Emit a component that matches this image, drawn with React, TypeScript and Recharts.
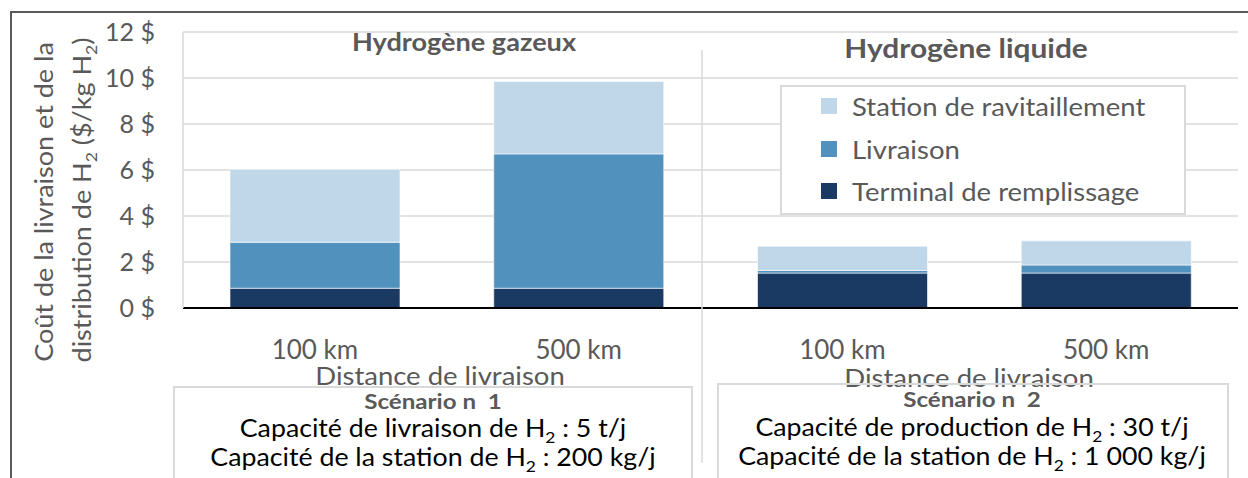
import { BarChart, Bar, XAxis, YAxis, CartesianGrid } from 'recharts'

const CATEGORIES = ['100 km', '500 km', '100 km', '500 km']
const TERMINAL = [0.86, 0.86, 1.52, 1.52]
const LIVRAISON = [2.0, 5.84, 0.11, 0.35]
const STATION = [3.17, 3.15, 1.06, 1.05]
const Y_TICKS = [0, 2, 4, 6, 8, 10, 12]

const SERIES = [
  { key: 'terminal', name: 'Terminal de remplissage', color: '#1B3A63' },
  { key: 'livraison', name: 'Livraison', color: '#5191BE' },
  { key: 'station', name: 'Station de ravitaillement', color: '#BFD7E8' },
]

const data = CATEGORIES.map((name, i) => ({
  name,
  terminal: TERMINAL[i],
  livraison: LIVRAISON[i],
  station: STATION[i],
}))

const FONT = 'Lato, "Open Sans", sans-serif'
const GREY = '#595959'

function H2({ size }: { size: number }) {
  return (
    <>
      H<tspan dy={size * 0.22} fontSize={size * 0.65}>2</tspan>
      <tspan dy={-size * 0.22}>{'\u200b'}</tspan>
    </>
  )
}

// svg text, stretched horizontally like the source picture
function T({ x, y, sx = 1.1, size, bold, fill = GREY, rotate, children }: any) {
  const tr = `translate(${x},${y})${rotate ? ` rotate(${rotate})` : ''} scale(${sx},1)`
  return (
    <text
      transform={tr}
      textAnchor="middle"
      fontSize={size}
      fontWeight={bold ? 700 : 400}
      fill={fill}
      style={{ whiteSpace: 'pre' }}
    >
      {children}
    </text>
  )
}

function LegendBox() {
  const items = [...SERIES].reverse()
  return (
    <div
      style={{
        position: 'absolute',
        left: 780,
        top: 85,
        width: 406,
        height: 130,
        boxSizing: 'border-box',
        background: '#fff',
        border: '2px solid #d9d9d9',
        fontFamily: FONT,
        fontSize: 25,
        color: GREY,
      }}
    >
      {items.map((s, i) => (
        <div key={s.key} style={{ position: 'absolute', left: 39, top: 4 + i * 42.5, display: 'flex', alignItems: 'center', height: 30 }}>
          <span style={{ width: 16, height: 16, background: s.color, display: 'inline-block', marginRight: 15 }} />
          <span style={{ display: 'inline-block', transform: 'scaleX(1.1)', transformOrigin: 'left center', whiteSpace: 'nowrap' }}>{s.name}</span>
        </div>
      ))}
    </div>
  )
}

export default function App() {
  return (
    <div style={{ position: 'absolute', left: 0, top: 0, width: 1248, height: 478, background: '#fff', overflow: 'hidden', fontFamily: FONT }}>
      <BarChart
        width={1248}
        height={478}
        data={data}
        barSize={170}
        margin={{ top: 32, right: 10, bottom: 130, left: 93 }}
      >
        <CartesianGrid vertical={false} stroke="#d9d9d9" strokeWidth={1.5} />
        <XAxis
          dataKey="name"
          height={40}
          tickLine={false}
          tickSize={0}
          tickMargin={33}
          axisLine={{ stroke: '#000', strokeWidth: 2 }}
          tick={{ fill: GREY, fontSize: 26, fontFamily: FONT }}
        />
        <YAxis
          width={90}
          domain={[0, 12]}
          ticks={Y_TICKS}
          interval={0}
          tickLine={false}
          tickSize={0}
          tickMargin={28}
          axisLine={{ stroke: '#d9d9d9', strokeWidth: 1.5 }}
          tickFormatter={(v: number) => `${v} $`}
          tick={{ fill: GREY, fontSize: 25, fontFamily: FONT }}
        />
        {SERIES.map((s) => (
          <Bar
            key={s.key}
            dataKey={s.key}
            name={s.name}
            stackId="a"
            fill={s.color}
            stroke="#ffffff"
            strokeWidth={0.6}
            isAnimationActive={false}
          />
        ))}
      </BarChart>

      <LegendBox />

      <svg
        width={1248}
        height={478}
        style={{ position: 'absolute', left: 0, top: 0, pointerEvents: 'none', fontFamily: FONT }}
      >
        {/* outer frame */}
        <line x1={10} y1={12} x2={1248} y2={12} stroke={GREY} strokeWidth={2} />
        <line x1={11} y1={12} x2={11} y2={478} stroke={GREY} strokeWidth={2} />

        {/* group divider */}
        <line x1={702} y1={50} x2={702} y2={463} stroke="#d9d9d9" strokeWidth={1.5} />

        {/* y axis title */}
        <T x={53} y={202} rotate={-90} sx={1.08} size={25}>Coût de la livraison et de la</T>
        <T x={91} y={200} rotate={-90} sx={1.08} size={25}>
          distribution de <H2 size={25} /> ($/kg <H2 size={25} />)
        </T>

        {/* group titles */}
        <T x={464} y={51} sx={1.13} size={24} bold>Hydrogène gazeux</T>
        <T x={966} y={58} sx={1.15} size={26} bold>Hydrogène liquide</T>

        {/* multi-level axis titles */}
        <T x={440} y={385} size={25}>Distance de livraison</T>
        <T x={969} y={387} size={25}>Distance de livraison</T>

        {/* scenario boxes */}
        <rect x={174} y={387} width={518} height={100} fill="none" stroke="#d9d9d9" strokeWidth={2} />
        <rect x={718} y={384} width={510} height={100} fill="none" stroke="#d9d9d9" strokeWidth={2} />

        <T x={433} y={409} sx={1.15} size={21} bold>{'Scénario n\u00a0\u00a01'}</T>
        <T x={433} y={437} sx={1.07} size={25} fill="#000">
          Capacité de livraison de <H2 size={25} /> : 5 t/j
        </T>
        <T x={433} y={466} sx={1.07} size={25} fill="#000">
          Capacité de la station de <H2 size={25} /> : 200 kg/j
        </T>

        <T x={972} y={407} sx={1.15} size={21} bold>{'Scénario n\u00a0\u00a02'}</T>
        <T x={972} y={436} sx={1.07} size={25} fill="#000">
          Capacité de production de <H2 size={25} /> : 30 t/j
        </T>
        <T x={972} y={465} sx={1.07} size={25} fill="#000">
          Capacité de la station de <H2 size={25} /> : 1 000 kg/j
        </T>
      </svg>
    </div>
  )
}
